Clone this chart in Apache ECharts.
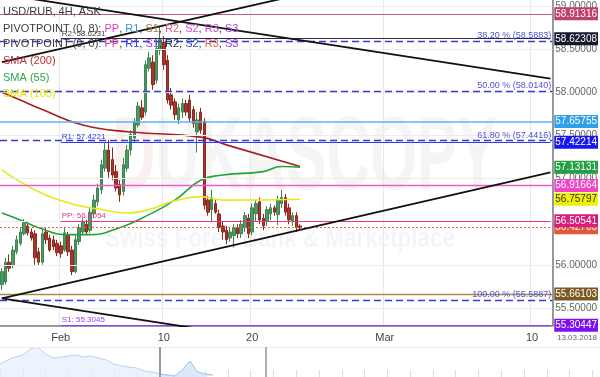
<!DOCTYPE html>
<html>
<head>
<meta charset="utf-8">
<script src="https://cdn.jsdelivr.net/npm/echarts@6/dist/echarts.min.js"></script>
<style>
html, body { margin: 0; padding: 0; background: #fff; }
#main { width: 600px; height: 377px; }
</style>
</head>
<body>
<div id="main"></div>
<script>
// USD/RUB 4H candles, index 0 = first bar on screen
var opens = [55.77,55.80,56.03,55.99,56.15,56.25,56.36,56.45,56.38,56.36,
  56.15,56.03,56.38,56.31,56.29,56.25,56.22,56.17,56.34,56.17,
  55.92,56.27,56.38,56.47,56.40,56.59,56.73,56.87,57.12,57.33,
  57.22,57.08,56.93,56.85,57.12,57.33,57.47,57.62,57.82,57.77,
  58.28,58.35,58.14,58.49,58.58,58.37,57.97,57.89,57.68,57.77,
  57.87,57.91,57.80,57.54,57.77,57.66,56.75,56.64,56.71,56.59,
  56.45,56.40,56.31,56.34,56.43,56.36,56.43,56.54,56.38,56.59,
  56.73,56.54,56.50,56.59,56.66,56.58,56.71,56.78,56.66,56.50,
  56.57,56.45];
var closes = [55.92,56.03,55.96,56.17,56.29,56.38,56.49,56.37,56.31,56.08,
  56.03,56.36,56.29,56.17,56.21,56.14,56.13,56.37,56.15,55.92,
  56.29,56.43,56.50,56.38,56.61,56.75,56.89,57.16,57.33,57.08,
  57.04,56.89,56.81,57.16,57.33,57.51,57.66,57.84,57.71,58.32,
  58.40,58.09,58.51,58.61,58.32,57.91,57.85,57.74,57.82,57.87,
  57.77,57.70,57.64,57.68,57.56,56.69,56.61,56.78,56.61,56.43,
  56.38,56.29,56.38,56.43,56.36,56.47,56.57,56.36,56.66,56.71,
  56.52,56.45,56.64,56.66,56.61,56.75,56.78,56.61,56.52,56.57,
  56.43,56.43];
var lows = [55.71,55.77,55.92,55.96,56.12,56.22,56.34,56.34,56.28,56.00,
  55.99,56.00,56.24,56.15,56.17,56.10,56.08,56.15,56.10,55.88,
  55.90,56.23,56.34,56.34,56.37,56.54,56.68,56.82,57.08,57.01,
  56.98,56.85,56.73,56.80,57.08,57.27,57.42,57.59,57.68,57.73,
  58.24,58.03,58.10,58.43,58.26,57.87,57.80,57.68,57.63,57.70,
  57.73,57.66,57.59,57.30,57.52,56.64,56.57,56.50,56.59,56.38,
  56.29,56.24,56.27,56.20,56.31,56.31,56.38,56.31,56.34,56.50,
  56.47,56.40,56.45,56.52,56.57,56.46,56.66,56.57,56.47,56.45,
  56.38,56.40];
var highs = [55.96,56.08,56.12,56.22,56.34,56.43,56.53,56.50,56.42,56.40,
  56.20,56.43,56.43,56.35,56.34,56.29,56.27,56.43,56.38,56.22,
  56.34,56.47,56.54,56.52,56.66,56.81,56.94,57.22,57.41,57.45,
  57.36,57.16,56.98,57.24,57.39,57.56,57.70,57.89,57.91,58.37,
  58.47,58.43,58.61,58.76,58.65,58.43,58.05,57.93,57.87,57.93,
  57.91,57.97,57.84,57.77,57.82,57.70,56.80,56.87,56.75,56.64,
  56.50,56.45,56.43,56.47,56.47,56.52,56.61,56.59,56.71,56.75,
  56.78,56.59,56.68,56.71,56.69,56.80,56.87,56.82,56.71,56.61,
  56.61,56.47];

// moving averages, [bar index, value]
var sma200 = [[0,58.00],[5,57.91],[11,57.80],[22,57.62],[35,57.54],[54,57.48],[61,57.39],[81,57.14]];
var sma55 = [[0,56.60],[5,56.52],[10,56.43],[18,56.35],[24,56.35],[32,56.43],[38,56.54],[47,56.75],[54,56.98],[60,57.04],[71,57.08],[76,57.14],[81,57.13]];
var sma100 = [[0,57.10],[8,56.89],[18,56.72],[27,56.64],[34,56.60],[40,56.64],[46,56.73],[54,56.79],[60,56.75],[81,56.76]];

// trend lines, two end points each
var channelTop = [[0,59.136],[149,58.158]];
var channelBottom = [[0,55.61],[60,55.215]];
var riseTop = [[0,58.35],[149,59.79]];
var riseBottom = [[0,55.61],[149,57.07]];

// levels
var pivot08 = [58.91316, 57.65755, 56.91664, 55.66103];   // R2, R1, PP, S1 of PIVOTPOINT (0, 8)
var pivot00 = [58.62308, 57.42214, 56.50541, 55.30447];   // R2, R1, PP, S1 of PIVOTPOINT (0, 0)
var pivot00Names = ['R2', 'R1', 'PP', 'S1'];
var pivotStart = 16;
var fibPct = [38.2, 50, 61.8, 100];
var fibPrice = [58.5883, 58.0140, 57.4416, 55.5887];
var smaLast = [57.13131, 56.75797];   // SMA(55), SMA(100)
var askPrice = 56.42703;

var yTicks = [55.5, 56, 56.5, 57, 57.5, 58, 58.5, 59];
var slotCount = 150;
var xLabelAt = {16: 'Feb', 44: '10', 68: '20', 104: 'Mar', 144: '10'};

// navigator overview
var navValues = [13,17,20,22,28,30,23,19,20,21,22,20,21,19,17,13,11,10,9,6,5,3,2,1,7,16,5,3,2];
var navSlots = 80;
var navSelFrom = 21;
var navWindow = [21, 35];

var FONT = 'Liberation Sans, Arial, sans-serif';
var categories = [];
for (var i = 0; i < slotCount; i++) categories.push(xLabelAt[i] || '');
var navCats = [];
for (var j = 0; j < navSlots; j++) navCats.push(j);

var candles = opens.map(function (o, k) { return [o, closes[k], lows[k], highs[k]]; });

function box(v, bg, fg) {
  return {
    show: true, position: 'end', distance: 2,
    backgroundColor: bg, color: fg || '#fff', padding: [2, 1, 1, 1],
    fontSize: 10, fontFamily: FONT, lineHeight: 10,
    formatter: v.toFixed(5)
  };
}
function fullLine(v, color, type, width, bg) {
  return { yAxis: v, lineStyle: { color: color, type: type || 'solid', width: width || 1 }, label: box(v, bg) };
}
function hidden(v, bg, fg) {
  return { yAxis: v, lineStyle: { color: 'rgba(0,0,0,0)', width: 0 }, label: box(v, bg, fg) };
}

var p00Colors = ['#2b2f44', '#2d3cf0', '#e8348a', '#9a3cf0'];
var p00Box = ['#141a2c', '#1717f0', '#d81e78', '#7d0ff2'];
var p00Lines = [];
pivot00.forEach(function (v, k) {
  p00Lines.push([
    { coord: [pivotStart, v], lineStyle: { color: p00Colors[k], width: 1.2, type: 'solid' },
      label: { show: true, position: 'insideStartTop', distance: 1, fontSize: 8, fontFamily: FONT,
        color: k === 0 ? '#444' : p00Colors[k], formatter: pivot00Names[k] + ': ' + v.toFixed(4) } },
    { coord: [slotCount - 1, v] }
  ]);
  p00Lines.push(hidden(v, p00Box[k]));
});

var fibLines = fibPrice.map(function (v, k) {
  return { yAxis: v, lineStyle: { color: '#3a3ad2', type: [7, 4], width: 1.3 },
    label: { show: true, position: 'insideEndTop', distance: 1, fontSize: 9, fontFamily: FONT, color: '#5252d6',
      formatter: fibPct[k].toFixed(2) + ' % (' + v.toFixed(4) + ')' } };
});

var levelData = [
  fullLine(pivot08[0], '#c95a80', 'solid', 1.2, '#c0406a'),
  fullLine(pivot08[1], '#5ab4f0', 'solid', 1.6, '#2f9fe8'),
  fullLine(pivot08[2], '#f05ad2', 'solid', 1.4, '#f045c8'),
  fullLine(pivot08[3], '#a88a50', 'solid', 1.4, '#7a5a22'),
  fullLine(askPrice, '#e8604a', [2, 2], 1, '#e05a3a'),
  hidden(smaLast[0], '#22a043'),
  hidden(smaLast[1], '#f0f000', '#333')
].concat(fibLines, p00Lines);

var gridLines = yTicks.map(function (v) { return { yAxis: v }; });

function rich(c) {
  var r = {};
  for (var key in c) r[key] = { color: c[key], fontSize: 11, fontFamily: FONT };
  return r;
}

var option = {
  animation: false,
  backgroundColor: '#fff',
  title: [
    { text: 'USD/RUB, 4H, ASK', left: 3, top: 6, padding: 0,
      textStyle: { fontSize: 11, fontWeight: 'normal', color: '#3a3a3a', fontFamily: FONT } },
    { text: '{t|PIVOTPOINT (0, 8): }{pp|PP}{t|, }{r1|R1}{t|, }{s1|S1}{t|, }{r2|R2}{t|, }{s2|S2}{t|, }{r3|R3}{t|, }{s3|S3}',
      left: 3, top: 23, padding: 0,
      textStyle: { fontSize: 11, fontWeight: 'normal', fontFamily: FONT, rich: rich({
        t: '#3a3a3a', pp: '#e83cb4', r1: '#3a90dc', s1: '#9c7c40', r2: '#e0607e', s2: '#d24ad4', r3: '#c050d0', s3: '#a448d0' }) } },
    { text: '{t|PIVOTPOINT (0, 0): }{pp|PP}{t|, }{r1|R1}{t|, }{s1|S1}{t|, }{r2|R2}{t|, }{s2|S2}{t|, }{r3|R3}{t|, }{s3|S3}',
      left: 3, top: 38, padding: 0,
      textStyle: { fontSize: 11, fontWeight: 'normal', fontFamily: FONT, rich: rich({
        t: '#3a3a3a', pp: '#e8348a', r1: '#2d3cf0', s1: '#8a3cf0', r2: '#2b2f44', s2: '#3050c0', r3: '#f05a3c', s3: '#9a3cf0' }) } },
    { text: 'SMA (200)', left: 3, top: 55, padding: 0, textStyle: { fontSize: 11, fontWeight: 'normal', color: '#b83232', fontFamily: FONT } },
    { text: 'SMA (55)', left: 3, top: 72, padding: 0, textStyle: { fontSize: 11, fontWeight: 'normal', color: '#2ea64a', fontFamily: FONT } },
    { text: 'SMA (100)', left: 3, top: 88, padding: 0, textStyle: { fontSize: 11, fontWeight: 'normal', color: '#e6e600', fontFamily: FONT } }
  ],
  graphic: [
    { type: 'text', x: 112, y: 108, scaleX: 0.58, z: -10, silent: true,
      style: { text: '{d|D}{r|UKASCOPY}', font: 'bold 104px ' + FONT,
        rich: { d: { fill: 'rgba(225,120,120,0.12)', font: 'bold 104px ' + FONT },
                r: { fill: 'rgba(160,160,160,0.10)', font: 'bold 104px ' + FONT } } } },
    { type: 'text', x: 105, y: 225, scaleX: 0.8, z: -10, silent: true,
      style: { text: 'Swiss Forex Bank & Marketplace', font: 'bold 28px ' + FONT, fill: 'rgba(160,160,160,0.10)' } },
    { type: 'text', left: 557, top: 334, style: { text: '13.03.2018', font: '8px ' + FONT, fill: '#666' } }
  ],
  grid: [
    { left: 0, right: 45, top: 0, bottom: 51 },
    { left: 0, right: 0, top: 347, bottom: 0 }
  ],
  xAxis: [
    { type: 'category', gridIndex: 0, data: categories, boundaryGap: true,
      axisLine: { show: true, lineStyle: { color: '#7a7a7a', width: 1.5 } },
      axisTick: { show: false },
      axisLabel: { interval: function (idx) { return !!xLabelAt[idx]; }, color: '#444', fontSize: 11, fontFamily: FONT, margin: 6 },
      splitLine: { show: true, interval: function (idx) { return !!xLabelAt[idx]; }, lineStyle: { color: '#e8e8e8', width: 1 } } },
    { type: 'category', gridIndex: 1, data: navCats, boundaryGap: false,
      axisLine: { show: false },
      axisTick: { show: true, inside: true, interval: 2, length: 7, lineStyle: { color: '#dddddd' } },
      axisLabel: { show: false }, splitLine: { show: false } }
  ],
  yAxis: [
    { type: 'value', gridIndex: 0, position: 'right', min: 55.29, max: 59.07,
      axisLine: { show: true, lineStyle: { color: '#7a7a7a', width: 1.5 } },
      axisTick: { show: false },
      axisLabel: { customValues: yTicks, formatter: function (v) { return v.toFixed(5); }, color: '#666', fontSize: 10, fontFamily: FONT, margin: 3 },
      splitLine: { show: false } },
    { type: 'value', gridIndex: 1, min: 0, max: 30, show: false }
  ],
  series: [
    { type: 'line', data: [], z: 1, silent: true,
      markLine: { symbol: ['none', 'none'], silent: true, label: { show: false },
        lineStyle: { color: '#ececec', type: 'solid', width: 1 }, data: gridLines } },
    { type: 'line', data: [], z: 2, silent: true,
      markLine: { symbol: ['none', 'none'], silent: true, lineStyle: { type: 'solid' }, data: levelData } },
    { type: 'candlestick', data: candles, z: 3, barWidth: 3,
      itemStyle: { color: '#4e9a63', color0: '#a8362b', borderColor: '#3f8553', borderColor0: '#8c2a22', borderWidth: 1 } },
    { type: 'line', data: sma200, z: 4, showSymbol: false, smooth: true, lineStyle: { color: '#a81e1e', width: 1.6 } },
    { type: 'line', data: sma55, z: 4, showSymbol: false, smooth: true, lineStyle: { color: '#22a43a', width: 1.6 } },
    { type: 'line', data: sma100, z: 4, showSymbol: false, smooth: true, lineStyle: { color: '#e8e820', width: 1.6 } },
    { type: 'line', data: channelTop, z: 5, showSymbol: false, lineStyle: { color: '#111', width: 1.8 } },
    { type: 'line', data: channelBottom, z: 5, showSymbol: false, lineStyle: { color: '#111', width: 1.8 } },
    { type: 'line', data: riseTop, z: 5, showSymbol: false, lineStyle: { color: '#111', width: 1.8 } },
    { type: 'line', data: riseBottom, z: 5, showSymbol: false, lineStyle: { color: '#111', width: 1.8 } },
    { type: 'line', xAxisIndex: 1, yAxisIndex: 1, showSymbol: false, z: 1,
      data: navValues.map(function (v, k) { return [k, v]; }),
      lineStyle: { color: '#b9d0f4', width: 1 }, areaStyle: { color: '#e6eefb' },
      markLine: { symbol: ['none', 'none'], silent: true, label: { show: false },
        data: [
          { yAxis: 30, lineStyle: { color: '#ececec', width: 1, type: 'solid' } },
          { xAxis: navWindow[0], lineStyle: { color: '#9a9a9a', width: 2, type: 'solid' } },
          { xAxis: navWindow[1], lineStyle: { color: '#b0b0b0', width: 2, type: 'solid' } }
        ] } },
    { type: 'line', xAxisIndex: 1, yAxisIndex: 1, showSymbol: false, z: 2,
      data: navValues.map(function (v, k) { return [k, v]; }).slice(navSelFrom),
      lineStyle: { color: '#a6c4f2', width: 1 }, areaStyle: { color: '#d6e4f9' } }
  ]
};

var chart = echarts.init(document.getElementById('main'));
chart.setOption(option);
</script>
</body>
</html>
